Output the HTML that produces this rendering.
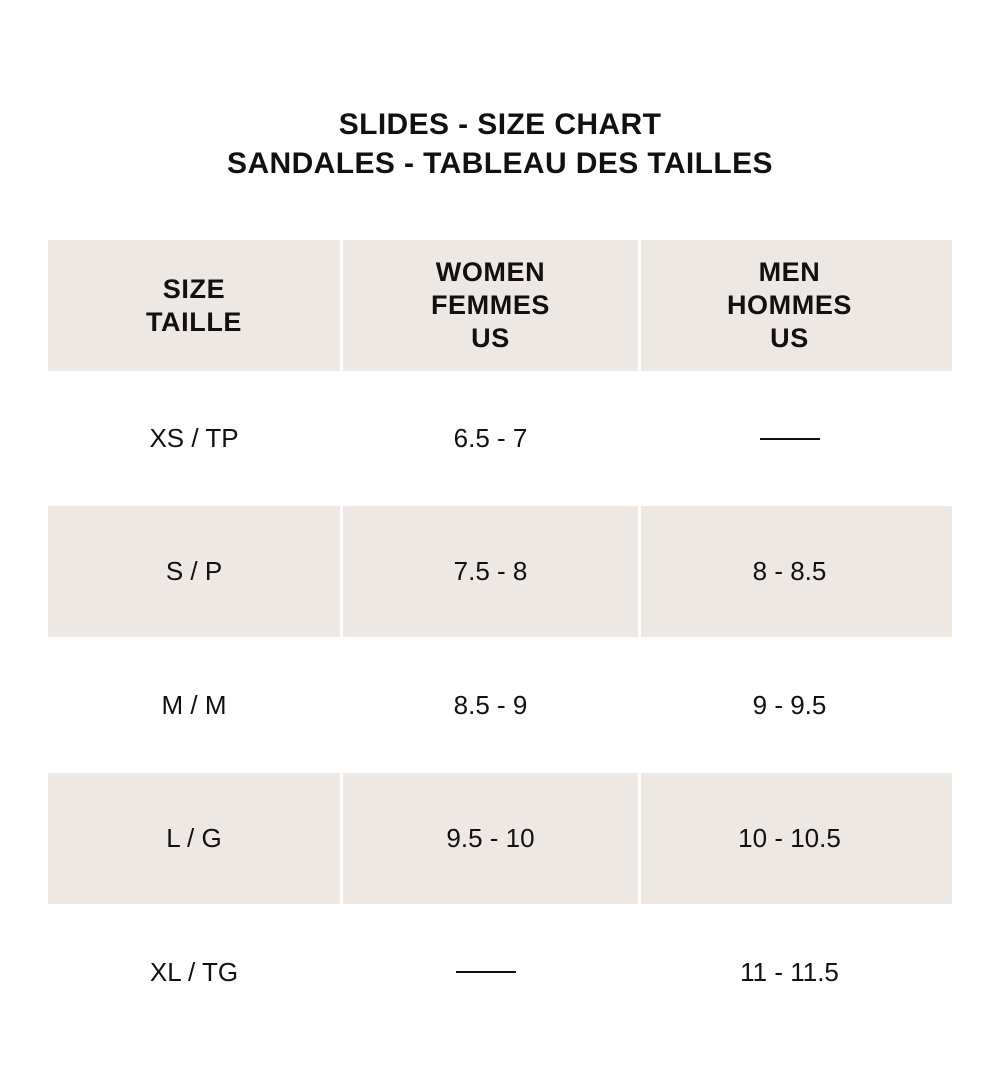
<!DOCTYPE html>
<html><head><meta charset="utf-8"><style>
body{margin:0;width:1000px;height:1091px;background:#fff;font-family:"Liberation Sans",sans-serif;color:#111;position:relative;overflow:hidden}
.t{position:absolute;left:0;width:1000px;text-align:center;font-weight:bold;font-size:30px;letter-spacing:0.4px}
.c{position:absolute;display:flex;align-items:center;justify-content:center;text-align:center;font-size:26px}
.g{background:#ede8e4}
.h{font-weight:bold;font-size:27px;line-height:33px;letter-spacing:0.6px}
.d{display:inline-block;width:60px;height:2px;background:#111}
.w{position:absolute;background:#ede8e4}
</style></head><body>
<div class="t" style="top:108px">SLIDES - SIZE CHART</div>
<div class="t" style="top:147px">SANDALES - TABLEAU DES TAILLES</div>

<div class="w" style="left:641px;top:240px;width:311px;height:131px"></div>
<div class="w" style="left:641px;top:506px;width:311px;height:131px"></div>
<div class="w" style="left:641px;top:773px;width:311px;height:131px"></div>

<div class="c g h" style="left:48px;top:240px;width:292px;height:131px">SIZE<br>TAILLE</div>
<div class="c g h" style="left:343px;top:240px;width:295px;height:131px">WOMEN<br>FEMMES<br>US</div>
<div class="c h" style="left:641px;top:240px;width:297px;height:131px">MEN<br>HOMMES<br>US</div>

<div class="c" style="left:48px;top:371px;width:292px;height:135px">XS / TP</div>
<div class="c" style="left:343px;top:371px;width:295px;height:135px">6.5 - 7</div>
<div class="c" style="left:641px;top:371px;width:297px;height:135px"><span class="d"></span></div>

<div class="c g" style="left:48px;top:506px;width:292px;height:131px">S / P</div>
<div class="c g" style="left:343px;top:506px;width:295px;height:131px">7.5 - 8</div>
<div class="c" style="left:641px;top:506px;width:297px;height:131px">8 - 8.5</div>

<div class="c" style="left:48px;top:637px;width:292px;height:136px">M / M</div>
<div class="c" style="left:343px;top:637px;width:295px;height:136px">8.5 - 9</div>
<div class="c" style="left:641px;top:637px;width:297px;height:136px">9 - 9.5</div>

<div class="c g" style="left:48px;top:773px;width:292px;height:131px">L / G</div>
<div class="c g" style="left:343px;top:773px;width:295px;height:131px">9.5 - 10</div>
<div class="c" style="left:641px;top:773px;width:297px;height:131px">10 - 10.5</div>

<div class="c" style="left:48px;top:904px;width:292px;height:136px">XL / TG</div>
<div class="c" style="left:343px;top:904px;width:285px;height:136px"><span class="d"></span></div>
<div class="c" style="left:641px;top:904px;width:297px;height:136px">11 - 11.5</div>
</body></html>
